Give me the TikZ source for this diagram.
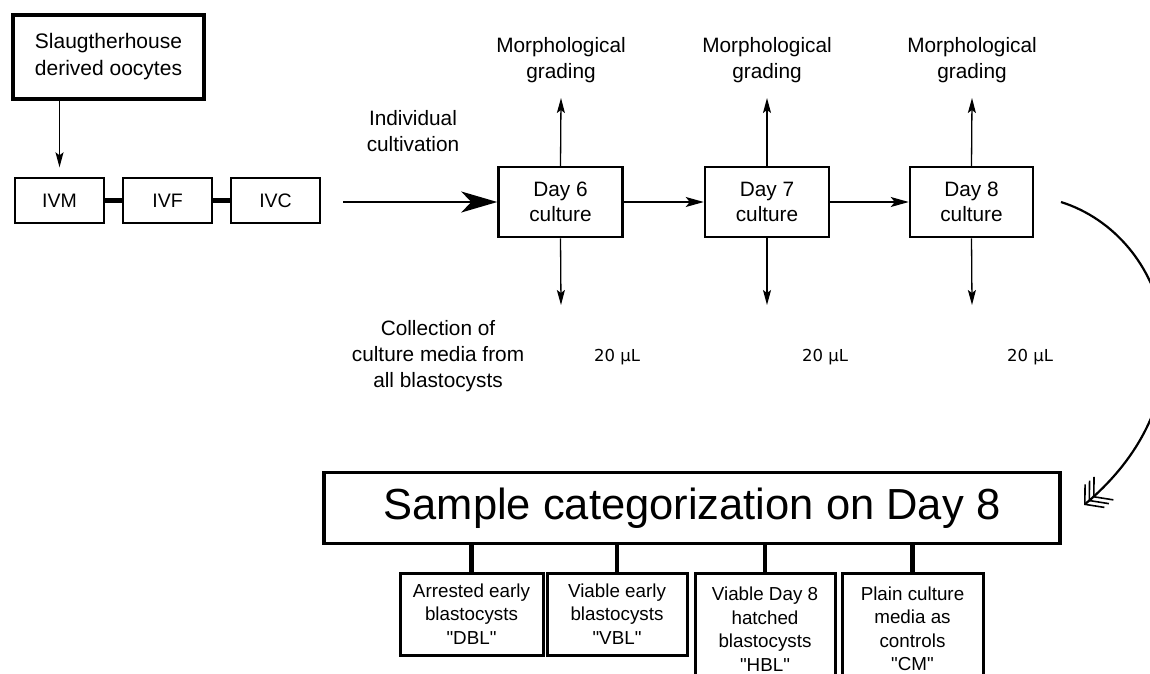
\documentclass[tikz,border=0pt]{standalone}
\usepackage{fontspec}
\setmainfont{Liberation Sans}
\newfontfamily\dejavu{DejaVu Sans}
\usetikzlibrary{arrows.meta}
\tikzset{
  box/.style={draw, inner sep=0pt, align=center, fill=white},
  ivbox/.style={box, line width=1.4pt, minimum width=89pt, minimum height=45pt, font=\fontsize{19.5}{24}\selectfont},
  daybox/.style={box, line width=2.5pt, minimum width=124pt, minimum height=70pt, font=\fontsize{20.8}{25.5}\selectfont},
  catbox/.style={box, line width=3pt, minimum width=141pt, font=\fontsize{18.8}{23.5}\selectfont},
  lbl/.style={align=center, inner sep=0pt, font=\fontsize{20.8}{26}\selectfont},
  vol/.style={inner sep=0pt, font=\dejavu\fontsize{16.5}{20}\selectfont},
  thinarrow/.style={line width=1.3pt, -{Stealth[length=15pt, width=8pt, inset=3pt]}},
  link/.style={line width=4.5pt},
}
\newcommand{\qq}{\textquotedbl}
\begin{document}
\begin{tikzpicture}[x=1pt, y=-1pt]
\useasboundingbox (0,0) rectangle (1150,673);

% left part
\node[box, line width=3.5pt, minimum width=191pt, minimum height=84pt, font=\fontsize{21}{27}\selectfont] (sl) at (108.5,57) {Slaugtherhouse\\derived oocytes};
\node[ivbox] (ivm) at (59.5,200.5) {IVM};
\node[ivbox] (ivf) at (167.5,200.5) {IVF};
\node[ivbox] (ivc) at (275.5,200.5) {IVC};
\draw[thinarrow, shorten >=10pt] (sl.south -| ivm) -- (ivm.north);
\draw[link] (ivm.east) -- (ivf.west);
\draw[link] (ivf.east) -- (ivc.west);

% cultivation row
\node[daybox] (d6) at (560.5,202) {Day 6\\culture};
\node[daybox] (d7) at (767,202) {Day 7\\culture};
\node[daybox, minimum width=123pt] (d8) at (971.5,202) {Day 8\\culture};

\node[lbl] (ic) at (413,131) {Individual\\cultivation};
\coordinate (ivstart) at (343,202);
\draw[line width=2pt, -{Stealth[length=36pt, width=21pt, inset=10pt]}] (ivstart) -- (d6.west);
\draw[line width=1.3pt, -{Stealth[length=18pt, width=10pt, inset=4pt]}] (d6.east) -- (d7.west);
\draw[line width=1.3pt, -{Stealth[length=18pt, width=10pt, inset=4pt]}] (d7.east) -- (d8.west);

% morphological grading
\node[lbl] (m6) at (561,60) {Morphological\\grading};
\node[lbl] (m7) at (767,60) {Morphological\\grading};
\node[lbl] (m8) at (972,60) {Morphological\\grading};
\coordinate (u6) at (561,98);
\coordinate (u7) at (767,98);
\coordinate (u8) at (972,98);
\draw[thinarrow] (d6.north) -- (u6);
\draw[thinarrow] (d7.north) -- (u7);
\draw[thinarrow] (d8.north) -- (u8);

% collection
\coordinate (w6) at (561,305);
\coordinate (w7) at (767,305);
\coordinate (w8) at (972,305);
\draw[thinarrow] (d6.south) -- (w6);
\draw[thinarrow] (d7.south) -- (w7);
\draw[thinarrow] (d8.south) -- (w8);
\node[lbl] (col) at (438,356) {Collection of\\culture media from\\all blastocysts};
\node[vol] (v6) at (617,357) {20 μL};
\node[vol] (v7) at (825,357) {20 μL};
\node[vol] (v8) at (1030,357) {20 μL};

% curved arrow
\coordinate (cs) at (1061,202);
\coordinate (ce) at (1084,505);
\draw[line width=2.2pt, -{Straight Barb[length=13pt, width=30pt, line width=1.6pt, sep=-9pt] Straight Barb[length=13pt, width=30pt, line width=1.6pt, sep=-9pt] Straight Barb[length=13pt, width=30pt, line width=1.6pt]}]
  (cs) .. controls (1168,236) and (1218,392) .. (ce);

% categorization
\node[box, line width=3.5pt, minimum width=736pt, minimum height=71pt, font=\fontsize{43.5}{50}\selectfont] (cat) at (692,508) {Sample categorization on Day 8};
\node[catbox, minimum width=143pt, minimum height=82pt] (dbl) at (471.5,614) {Arrested early\\blastocysts\\\qq DBL\qq};
\node[catbox, minimum width=140pt, minimum height=82pt] (vbl) at (617,614) {Viable early\\blastocysts\\\qq VBL\qq};
\node[catbox, minimum width=140pt, minimum height=112pt] (hbl) at (765,629) {Viable Day 8\\hatched\\blastocysts\\\qq HBL\qq};
\node[catbox, minimum width=141pt, minimum height=112pt] (cm) at (912.5,629) {Plain culture\\media as\\controls\\\qq CM\qq};
\draw[link] (cat.south -| dbl) -- (dbl.north);
\draw[link] (cat.south -| vbl) -- (vbl.north);
\draw[link] (cat.south -| hbl) -- (hbl.north);
\draw[link] (cat.south -| cm) -- (cm.north);
\end{tikzpicture}
\end{document}
